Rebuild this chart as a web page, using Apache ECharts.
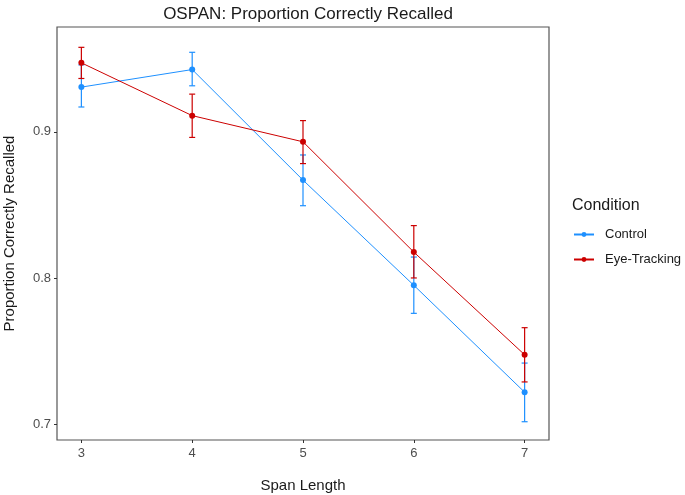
<!DOCTYPE html>
<html>
<head>
<meta charset="utf-8">
<script src="https://cdn.jsdelivr.net/npm/echarts@6/dist/echarts.min.js"></script>
<style>
  html, body { margin: 0; padding: 0; background: #fff; }
  #main { width: 685px; height: 495px; }
</style>
</head>
<body>
<div id="main"></div>
<script>
// span lengths on the x axis
const spans = [3, 4, 5, 6, 7];

// Control condition: mean and error bar ends
const controlMean = [0.9306, 0.9426, 0.8670, 0.7951, 0.7220];
const controlLow  = [0.9170, 0.9315, 0.8495, 0.7759, 0.7018];
const controlHigh = [0.9458, 0.9544, 0.8842, 0.8144, 0.7419];

// Eye-Tracking condition
const eyeMean = [0.9472, 0.9111, 0.8932, 0.8178, 0.7476];
const eyeLow  = [0.9365, 0.8962, 0.8783, 0.8001, 0.7290];
const eyeHigh = [0.9578, 0.9258, 0.9077, 0.8359, 0.7661];

const yTicks = [0.7, 0.8, 0.9];

const FONT = 'Liberation Sans, Arial, sans-serif';
const BLUE = '#1E90FF';
const RED = '#CC0000';

function zipPts(xs, ys) {
  return xs.map((x, i) => [x, ys[i]]);
}
function zipErr(xs, lo, hi) {
  return xs.map((x, i) => [x, lo[i], hi[i]]);
}

// draws a vertical error bar with small caps
function errRender(color) {
  return function (params, api) {
    const top = api.coord([api.value(0), api.value(2)]);
    const bot = api.coord([api.value(0), api.value(1)]);
    const w = 3;
    const style = { stroke: color, lineWidth: 1.2 };
    return {
      type: 'group',
      children: [
        { type: 'line', shape: { x1: top[0], y1: top[1], x2: bot[0], y2: bot[1] }, style: style },
        { type: 'line', shape: { x1: top[0] - w, y1: top[1], x2: top[0] + w, y2: top[1] }, style: style },
        { type: 'line', shape: { x1: bot[0] - w, y1: bot[1], x2: bot[0] + w, y2: bot[1] }, style: style }
      ]
    };
  };
}

var myChart = echarts.init(document.getElementById('main'));

var option = {
  animation: false,
  title: {
    text: 'OSPAN: Proportion Correctly Recalled',
    left: 303,
    textAlign: 'center',
    top: 1,
    textStyle: { fontFamily: FONT, fontSize: 17, fontWeight: 'normal', color: '#1a1a1a' }
  },
  grid: {
    left: 57, right: 136, top: 27, bottom: 55,
    outerBoundsMode: 'none',
    containLabel: false,
    show: true,
    borderColor: '#555',
    borderWidth: 1.2
  },
  legend: {
    left: 568,
    top: 223,
    orient: 'vertical',
    itemWidth: 20,
    itemHeight: 6,
    itemGap: 12,
    data: ['Control', 'Eye-Tracking'],
    textStyle: { fontFamily: FONT, fontSize: 13, color: '#1a1a1a', padding: [0, 0, 0, 6] }
  },
  graphic: [
    {
      type: 'text',
      left: 572,
      top: 198,
      style: { text: 'Condition', fontFamily: FONT, fontSize: 16, fill: '#1a1a1a' }
    }
  ],
  xAxis: {
    type: 'value',
    min: 2.78,
    max: 7.22,
    name: 'Span Length',
    nameLocation: 'middle',
    nameGap: 38,
    nameTextStyle: { fontFamily: FONT, fontSize: 15, color: '#1a1a1a' },
    splitLine: { show: false },
    axisLine: { show: false },
    axisTick: { show: true, length: 3, customValues: spans, lineStyle: { color: '#333' } },
    axisLabel: {
      customValues: spans,
      margin: 7,
      fontFamily: FONT, fontSize: 13, color: '#4d4d4d'
    }
  },
  yAxis: {
    type: 'value',
    min: 0.6893,
    max: 0.9717,
    name: 'Proportion Correctly Recalled',
    nameLocation: 'middle',
    nameGap: 40,
    nameTextStyle: { fontFamily: FONT, fontSize: 15, color: '#1a1a1a' },
    splitLine: { show: false },
    axisLine: { show: false },
    axisTick: { show: true, length: 3, customValues: yTicks, lineStyle: { color: '#333' } },
    axisLabel: {
      customValues: yTicks,
      margin: 6,
      formatter: v => v.toFixed(1),
      fontFamily: FONT, fontSize: 13, color: '#4d4d4d'
    }
  },
  series: [
    {
      name: 'Control error',
      type: 'custom',
      renderItem: errRender(BLUE),
      data: zipErr(spans, controlLow, controlHigh),
      z: 2
    },
    {
      name: 'Eye-Tracking error',
      type: 'custom',
      renderItem: errRender(RED),
      data: zipErr(spans, eyeLow, eyeHigh),
      z: 2
    },
    {
      name: 'Control',
      type: 'line',
      data: zipPts(spans, controlMean),
      symbol: 'circle',
      symbolSize: 6,
      itemStyle: { color: BLUE },
      lineStyle: { color: BLUE, width: 1 },
      z: 3
    },
    {
      name: 'Eye-Tracking',
      type: 'line',
      data: zipPts(spans, eyeMean),
      symbol: 'circle',
      symbolSize: 6,
      itemStyle: { color: RED },
      lineStyle: { color: RED, width: 1 },
      z: 4
    }
  ]
};

myChart.setOption(option);
</script>
</body>
</html>
